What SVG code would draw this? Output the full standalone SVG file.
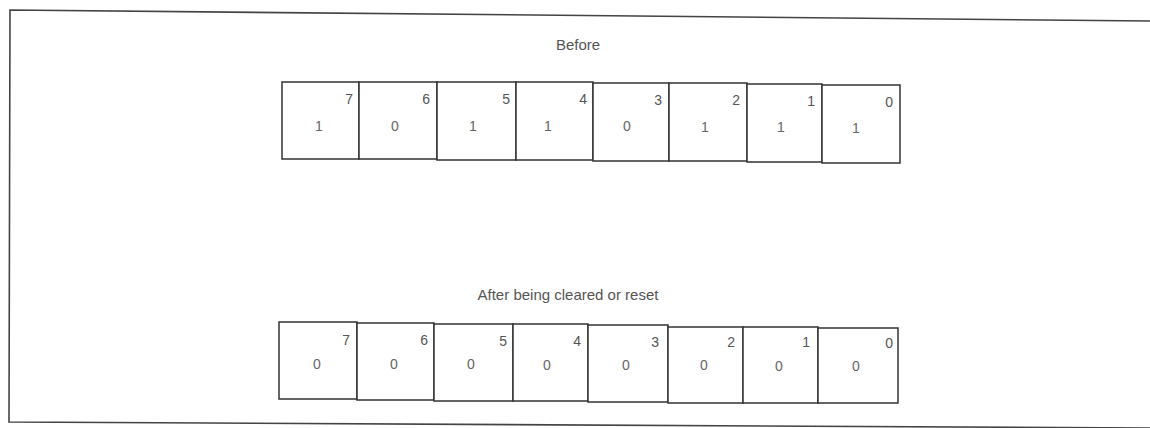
<svg xmlns="http://www.w3.org/2000/svg" width="1150" height="428" viewBox="0 0 1150 428">
<style>
.frame{fill:none;stroke:#444;stroke-width:1.6}
.cell{fill:#fff;stroke:#333;stroke-width:1.5}
.t{font-family:"Liberation Sans",Arial,sans-serif;fill:#555;font-size:15px}
.v{font-family:"Liberation Sans",Arial,sans-serif;fill:#666;font-size:14px;text-anchor:middle}
.i{font-family:"Liberation Sans",Arial,sans-serif;fill:#555;font-size:14px;text-anchor:end}
</style>
<rect width="1150" height="428" fill="#fff"/>
<path class="frame" d="M1150,21 L10,10 L9,422 L1150,428"/>
<text class="t" x="578" y="50" text-anchor="middle">Before</text>
<text class="t" x="568" y="300" text-anchor="middle">After being cleared or reset</text>
<g id="before">
<g id="b7"><rect class="cell" x="282" y="82" width="77" height="77"/><text class="v" x="319" y="131">1</text><text class="i" x="353" y="104">7</text></g>
<g id="b6"><rect class="cell" x="359" y="82" width="78" height="77"/><text class="v" x="395" y="131">0</text><text class="i" x="430" y="104">6</text></g>
<g id="b5"><rect class="cell" x="437" y="82" width="79" height="78"/><text class="v" x="473" y="131">1</text><text class="i" x="510" y="104">5</text></g>
<g id="b4"><rect class="cell" x="516" y="82" width="77" height="78"/><text class="v" x="548" y="131">1</text><text class="i" x="587" y="104">4</text></g>
<g id="b3"><rect class="cell" x="593" y="83" width="76" height="78"/><text class="v" x="627" y="131">0</text><text class="i" x="662" y="105">3</text></g>
<g id="b2"><rect class="cell" x="669" y="83" width="78" height="78"/><text class="v" x="705" y="132">1</text><text class="i" x="740" y="105">2</text></g>
<g id="b1"><rect class="cell" x="747" y="84" width="75" height="78"/><text class="v" x="781" y="132">1</text><text class="i" x="815" y="106">1</text></g>
<g id="b0"><rect class="cell" x="822" y="85" width="78" height="78"/><text class="v" x="856" y="133">1</text><text class="i" x="893" y="107">0</text></g>
</g>
<g id="after">
<g id="a7"><rect class="cell" x="279" y="322" width="78" height="77"/><text class="v" x="317" y="369">0</text><text class="i" x="350" y="345">7</text></g>
<g id="a6"><rect class="cell" x="357" y="323" width="77" height="77"/><text class="v" x="394" y="369">0</text><text class="i" x="428" y="345">6</text></g>
<g id="a5"><rect class="cell" x="434" y="324" width="79" height="77"/><text class="v" x="471" y="369">0</text><text class="i" x="507" y="346">5</text></g>
<g id="a4"><rect class="cell" x="513" y="324" width="75" height="77"/><text class="v" x="547" y="370">0</text><text class="i" x="581" y="346">4</text></g>
<g id="a3"><rect class="cell" x="588" y="325" width="80" height="77"/><text class="v" x="626" y="370">0</text><text class="i" x="659" y="347">3</text></g>
<g id="a2"><rect class="cell" x="668" y="327" width="75" height="76"/><text class="v" x="704" y="370">0</text><text class="i" x="735" y="347">2</text></g>
<g id="a1"><rect class="cell" x="743" y="327" width="75" height="76"/><text class="v" x="779" y="371">0</text><text class="i" x="810" y="347">1</text></g>
<g id="a0"><rect class="cell" x="818" y="328" width="80" height="75"/><text class="v" x="856" y="371">0</text><text class="i" x="893" y="348">0</text></g>
</g>
<g id="connectors"/>
</svg>
